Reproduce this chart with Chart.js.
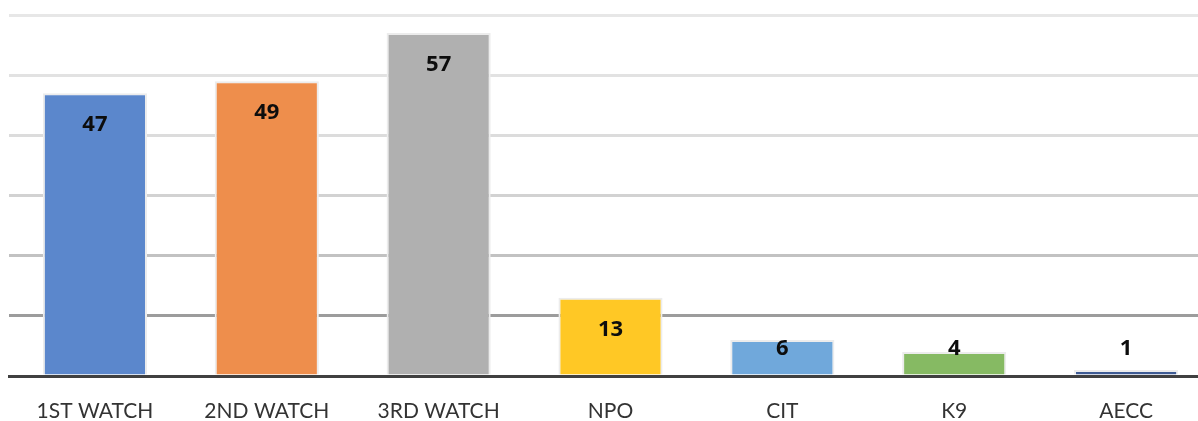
<!DOCTYPE html>
<html>
<head>
<meta charset="utf-8">
<script src="https://cdn.jsdelivr.net/npm/chart.js@4/dist/chart.umd.min.js"></script>
<style>
    html, body { margin: 0; padding: 0; background: #fff; overflow: hidden; }
    .chart-box { width: 1212px; height: 421px; position: relative; }
</style>
</head>
<body>
<div class="chart-box">
    <canvas id="watchChart"></canvas>
</div>
<script>
const categories = ["1ST WATCH", "2ND WATCH", "3RD WATCH", "NPO", "CIT", "K9", "AECC"];
const counts = [47, 49, 57, 13, 6, 4, 1];
const barColors = ["#5B87CC", "#EE8E4C", "#B0B0B0", "#FFC825", "#70A8DB", "#86BA63", "#3D5A93"];

// grid gets darker toward the bottom in the original
const gridShades = {0: "#999999", 10: "#9c9c9c", 20: "#c2c2c2", 30: "#d2d2d2", 40: "#dcdcdc", 50: "#e2e2e2", 60: "#e7e7e7"};

// value labels sit ~30px under the bar top, but never lower than a fixed line
const valueLabels = {
    id: 'valueLabels',
    afterDatasetsDraw(chart) {
        const {ctx} = chart;
        const meta = chart.getDatasetMeta(0);
        const floorY = chart.scales.y.getPixelForValue(0) - 27;
        ctx.save();
        ctx.font = "bold 22px 'Open Sans', sans-serif";
        ctx.fillStyle = "#0d0d0d";
        ctx.textAlign = "center";
        ctx.textBaseline = "middle";
        meta.data.forEach((bar, i) => {
            const y = Math.min(bar.y + 32, floorY);
            ctx.fillText(counts[i], bar.x, y);
        });
        ctx.restore();
    }
};

new Chart(document.getElementById('watchChart'), {
    type: 'bar',
    data: {
        labels: categories,
        datasets: [{
            data: counts,
            backgroundColor: barColors,
            borderColor: "#ececec",
            borderWidth: 2,
            barPercentage: 0.606,
            categoryPercentage: 1
        }]
    },
    options: {
        responsive: true,
        maintainAspectRatio: false,
        animation: false,
        layout: { padding: { left: 9, top: 15, right: 0, bottom: 0 } },
        plugins: {
            legend: { display: false },
            tooltip: { enabled: false }
        },
        scales: {
            x: {
                grid: { display: false, drawTicks: false },
                border: { display: true, color: "#404040", width: 3 },
                ticks: {
                    color: "#333333",
                    font: { family: "Lato, 'Open Sans', sans-serif", size: 21 },
                    padding: 23,
                    maxRotation: 0
                },
                afterFit: scale => { scale.height = 45; }
            },
            y: {
                min: 0,
                max: 60,
                ticks: { display: false, stepSize: 10 },
                border: { display: false },
                grid: {
                    color: ctx => gridShades[ctx.tick.value] || "#dddddd",
                    lineWidth: 3,
                    drawTicks: false
                }
            }
        }
    },
    plugins: [valueLabels]
});
</script>
</body>
</html>
